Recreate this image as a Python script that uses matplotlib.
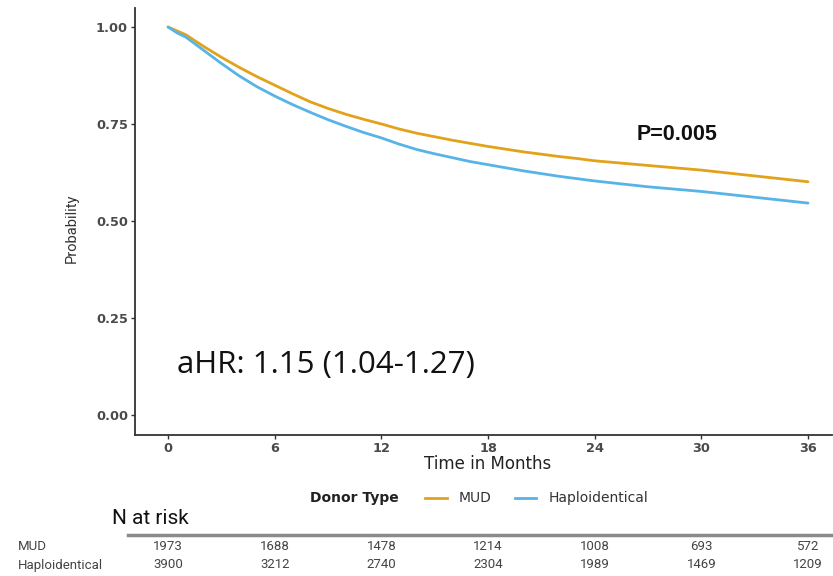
import matplotlib
matplotlib.use("Agg")
import matplotlib.pyplot as plt
from matplotlib.lines import Line2D

# ---------------- data ----------------
months = [0, 0.5, 1, 2, 3, 4, 5, 6, 7, 8, 9, 10, 11, 12, 13, 14, 15, 16, 17, 18,
          19, 20, 21, 22, 23, 24, 25, 26, 27, 28, 29, 30, 31, 32, 33, 34, 35, 36]
mud = [1.000, 0.990, 0.980, 0.950, 0.922, 0.896, 0.872, 0.850, 0.828, 0.807, 0.790,
       0.775, 0.762, 0.750, 0.737, 0.726, 0.717, 0.708, 0.700, 0.692, 0.685, 0.678,
       0.672, 0.666, 0.661, 0.655, 0.651, 0.647, 0.643, 0.639, 0.635, 0.631, 0.626,
       0.621, 0.616, 0.611, 0.606, 0.601]
haplo = [1.000, 0.985, 0.974, 0.940, 0.906, 0.874, 0.846, 0.822, 0.800, 0.780, 0.761,
         0.744, 0.728, 0.714, 0.698, 0.684, 0.673, 0.663, 0.653, 0.645, 0.637, 0.629,
         0.622, 0.615, 0.609, 0.603, 0.598, 0.593, 0.588, 0.584, 0.580, 0.576, 0.571,
         0.566, 0.561, 0.556, 0.551, 0.546]

x_ticks = [0, 6, 12, 18, 24, 30, 36]
y_ticks = [0.00, 0.25, 0.50, 0.75, 1.00]
y_ticklabels = ["0.00", "0.25", "0.50", "0.75", "1.00"]

groups = ["MUD", "Haploidentical"]
risk_mud = [1973, 1688, 1478, 1214, 1008, 693, 572]
risk_haplo = [3900, 3212, 2740, 2304, 1989, 1469, 1209]

p_text = "P=0.005"
hr_text = "aHR: 1.15 (1.04-1.27)"

# ---------------- style ----------------
c_mud = "#E2A21A"
c_haplo = "#58B4E6"
W, H = 833, 576
fig = plt.figure(figsize=(W / 100, H / 100), dpi=100)


def fx(px):
    return px / W


def fy(py):
    return 1 - py / H


# main axes
left, right, top, bottom = 135, 832, 8, 435
ax = fig.add_axes([fx(left), fy(bottom), fx(right - left), (bottom - top) / H])
ax.plot(months, mud, color=c_mud, lw=2.0, solid_capstyle="round")
ax.plot(months, haplo, color=c_haplo, lw=2.0, solid_capstyle="round")
ax.set_xlim(-1.86, 37.35)
ax.set_ylim(-0.052, 1.049)
for s in ["top", "right"]:
    ax.spines[s].set_visible(False)
for s in ["left", "bottom"]:
    ax.spines[s].set_color("#333333")
    ax.spines[s].set_linewidth(1.3)
ax.set_xticks(x_ticks)
ax.set_xticklabels([str(t) for t in x_ticks])
ax.set_yticks(y_ticks)
ax.set_yticklabels(y_ticklabels)
ax.tick_params(axis="both", colors="#333333", labelcolor="#4a4a4a",
               labelsize=9.3, length=3, width=1.0, pad=2)
for lab in ax.get_xticklabels() + ax.get_yticklabels():
    lab.set_fontfamily("DejaVu Sans")
    lab.set_fontweight("bold")

fig.text(fx(488), fy(464), "Time in Months", fontsize=12, family="DejaVu Sans",
         color="#222222", ha="center", va="center")
fig.text(fx(72), fy(228), "Probability", fontsize=10.5, family="Roboto",
         color="#333333", ha="center", va="center", rotation=90)

fig.text(fx(677), fy(134), p_text, fontsize=15.5, fontweight="bold",
         family="Liberation Sans", color="#111111", ha="center", va="center")
fig.text(fx(177), fy(373), hr_text, fontsize=22.5, family="Open Sans",
         color="#111111", ha="left", va="baseline")

# legend (manual, ggplot-like)
fig.text(fx(310), fy(498), "Donor Type", fontsize=10, fontweight="bold",
         family="DejaVu Sans", color="#222222", va="center")
fig.add_artist(Line2D([fx(425), fx(447)], [fy(498), fy(498)], color=c_mud, lw=2,
                      transform=fig.transFigure))
fig.text(fx(459), fy(498), groups[0], fontsize=10, family="DejaVu Sans",
         color="#333333", va="center")
fig.add_artist(Line2D([fx(515), fx(536)], [fy(498), fy(498)], color=c_haplo, lw=2,
                      transform=fig.transFigure))
fig.text(fx(549), fy(498), groups[1], fontsize=10, family="DejaVu Sans",
         color="#333333", va="center")

# N at risk
fig.text(fx(112), fy(518), "N at risk", fontsize=15, family="Roboto",
         color="#111111", va="center")
fig.add_artist(Line2D([fx(128), fx(833)], [fy(535), fy(535)], color="#8a8a8a",
                      lw=2.5, transform=fig.transFigure))
tab = fig.add_axes([fx(left), fy(574), fx(right - left), (574 - 538) / H])
tab.set_xlim(ax.get_xlim())
tab.set_ylim(0, 1)
tab.axis("off")
for t, a, b in zip(x_ticks, risk_mud, risk_haplo):
    tab.text(t, 0.75, str(a), fontsize=9.5, family="Roboto", color="#444444",
             ha="center", va="center")
    tab.text(t, 0.25, str(b), fontsize=9.5, family="Roboto", color="#444444",
             ha="center", va="center")
fig.text(fx(18), fy(547), groups[0], fontsize=9.5, family="Roboto",
         color="#444444", va="center")
fig.text(fx(18), fy(565), groups[1], fontsize=9.5, family="Roboto",
         color="#444444", va="center")

fig.savefig("out.png", dpi=100, facecolor="white")
